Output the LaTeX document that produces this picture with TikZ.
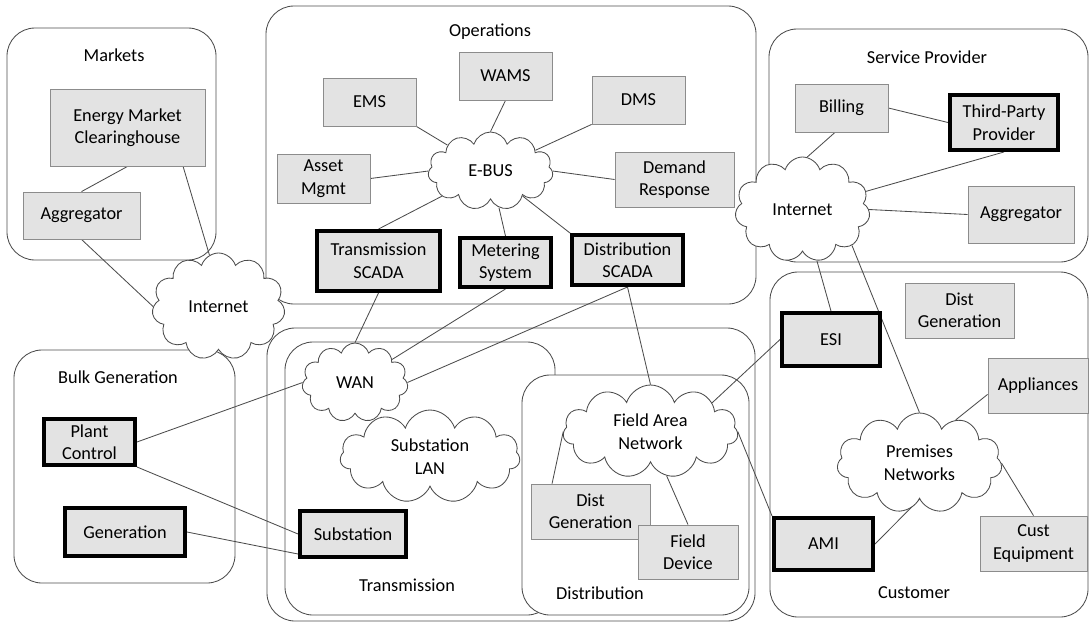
\documentclass[tikz,border=0pt]{standalone}
\usepackage{fontspec}
\setmainfont{Carlito}
\usepackage{tikz}
\usetikzlibrary{shapes.symbols,calc}
\pgfdeclarelayer{zones}
\pgfdeclarelayer{links}
\pgfsetlayers{zones,links,main}
\newdimen\pxu
\pxu=0.025cm
\tikzset{
	zone/.style={draw=black!70, line width=0.6pt, rounded corners=28\pxu},
	box/.style 2 args={draw=black!45, fill=black!11, line width=0.6pt, inner sep=0pt,
		minimum width=#1\pxu, minimum height=#2\pxu, align=center},
	keybox/.style 2 args={box={#1}{#2}, draw=black, line width=2.8pt},
	net/.style 2 args={cloud, cloud puffs=11, cloud puff arc=145, cloud ignores aspect,
		draw=black!70, fill=white, line width=0.6pt, inner sep=0pt,
		minimum width=#1\pxu, minimum height=#2\pxu, align=center},
	link/.style={draw=black!70, line width=0.6pt}
}

\begin{document}
\begin{tikzpicture}[x=0.025cm, y=-0.025cm, font=\fontsize{13}{16}\selectfont]
			\useasboundingbox (0,0) rectangle (1090,626);
			% domains
			\begin{pgfonlayer}{zones}
				\draw[zone] (7,28) rectangle (216,260);
				\draw[zone] (266,6) rectangle (756,304);
				\draw[zone] (769,29) rectangle (1088,262);
				\draw[zone] (14,350) rectangle (235,583);
				\draw[zone] (267,328) rectangle (755,621);
				\draw[zone] (285,342) rectangle (555,615);
				\draw[zone, fill=white] (522,375) rectangle (749,615);
				\draw[zone] (770,272) rectangle (1088,617);
			\end{pgfonlayer}
			\node (lblMarkets) at (114,55) {Markets};
			\node (lblOps) at (490,32) {Operations};
			\node (lblSP) at (927,57) {Service Provider};
			\node (lblBulk) at (118,377) {Bulk Generation};
			\node (lblTrans) at (407,585) {Transmission};
			\node (lblDist) at (600,593) {Distribution};
			\node (lblCust) at (914,593) {Customer};
			% markets
			\node[box={155}{77}] (CH) at (127.5,127.5) {Energy Market\\Clearinghouse};
			\node[box={117}{47}] (AggMkt) at (81.5,215.5) {Aggregator};
			% operations
			\node[box={93}{48}] (EMS) at (369.5,102) {EMS};
			\node[box={93}{48}] (WAMS) at (505.5,76) {WAMS};
			\node[box={93}{48}] (DMS) at (638.5,100) {DMS};
			\node[box={93}{49}] (Asset) at (323.5,178.5) {Asset\\Mgmt};
			\node[box={119}{55}] (Demand) at (674.5,179.5) {Demand\\Response};
			\node[keybox={123}{60}] (TSCADA) at (378.5,261) {Transmission\\SCADA};
			\node[keybox={91}{49}] (Metering) at (505.5,262.5) {Metering\\System};
			\node[keybox={111}{50}] (DSCADA) at (627.5,260) {Distribution\\SCADA};
			% service provider
			\node[box={93}{48}] (Billing) at (841.5,108) {Billing};
			\node[keybox={108}{55}] (TPP) at (1004,122.5) {Third-Party\\Provider};
			\node[box={106}{57}] (AggSP) at (1021,214.5) {Aggregator};
			% bulk generation and transmission
			\node[keybox={91}{46}] (PlantCtl) at (89.5,442) {Plant\\Control};
			\node[keybox={120}{48}] (Gen) at (125,532) {Generation};
			\node[keybox={106}{46}] (Substation) at (353,534) {Substation};
			% distribution
			\node[box={119}{55}] (DistGenD) at (590.5,511.5) {Dist\\Generation};
			\node[box={100}{54}] (FieldDev) at (688,552) {Field\\Device};
			% customer
			\node[box={109}{55}] (DistGenC) at (959.5,310.5) {Dist\\Generation};
			\node[keybox={98}{53}] (ESI) at (831,339.5) {ESI};
			\node[box={100}{55}] (Appliances) at (1038,385.5) {Appliances};
			\node[keybox={99}{52}] (AMI) at (823.5,544) {AMI};
			\node[box={107}{55}] (CustEquip) at (1033.5,543.5) {Cust\\Equipment};
			% networks
			\node[net={133}{107}] (InetL) at (218.5,306.5) {Internet};
			\node[net={125}{78}] (EBUS) at (490.5,171) {E-BUS};
			\node[net={135}{105}] (InetR) at (802.5,209.5) {Internet};
			\node[net={106}{79}] (WAN) at (355,382.5) {WAN};
			\node[net={180}{93}] (SubLAN) at (430,456.5) {Substation\\LAN};
			\node[net={175}{93}] (FAN) at (650.5,431.5) {Field Area\\Network};
			\node[net={165}{100}] (Premises) at (919.5,463) {Premises\\Networks};
			% links
			\begin{pgfonlayer}{links}
				\draw[link] (CH.south) -- (AggMkt.north);
				\draw[link] (CH.-35) -- (InetL.100);
				\draw[link] (AggMkt.south) -- (InetL.west);
				\draw[link] (EMS.south east) -- (EBUS);
				\draw[link] (WAMS.south) -- (EBUS.north);
				\draw[link] (DMS.south west) -- (EBUS);
				\draw[link] (Asset.east) -- (EBUS.west);
				\draw[link] (Demand.west) -- (EBUS.east);
				\draw[link] (EBUS) -- (TSCADA.north);
				\draw[link] (EBUS) -- (Metering.north);
				\draw[link] (EBUS) -- (DSCADA.north west);
				\draw[link] (TSCADA.south) -- (WAN.north);
				\draw[link] (Metering.south) -- (WAN);
				\draw[link] (DSCADA.south) -- (WAN.east);
				\draw[link] (DSCADA.south) -- (FAN.north);
				\draw[link] (PlantCtl.east) -- (WAN.west);
				\draw[link] (PlantCtl.south east) -- (Substation.west);
				\draw[link] (Gen.east) -- (Substation.200);
				\draw[link] (Billing.-105) -- (InetR.85);
				\draw[link] (Billing.east) -- (TPP.west);
				\draw[link] (TPP.south) -- (InetR);
				\draw[link] (InetR.east) -- (AggSP.west);
				\draw[link] (InetR) -- (ESI.north);
				\draw[link] (InetR.-36) -- (Premises.north);
				\draw[link] (FAN.25) -- (ESI.west);
				\draw[link] (FAN.east) -- (AMI.north west);
				\draw[link] (FAN.west) -- (DistGenD.144);
				\draw[link] (FAN.-70) -- (FieldDev.north);
				\draw[link] (Premises.south) -- (AMI.east);
				\draw[link] (Premises.50) -- (Appliances.190);
				\draw[link] (Premises.east) -- (CustEquip.north);
			\end{pgfonlayer}
		\end{tikzpicture}
\end{document}
